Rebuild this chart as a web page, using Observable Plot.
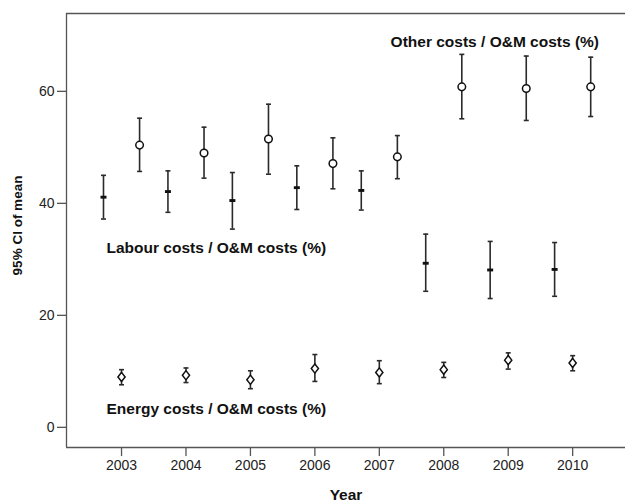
<!DOCTYPE html>
<html>
<head>
<meta charset="utf-8">
<script src="https://cdn.jsdelivr.net/npm/d3@7"></script>
<script src="https://cdn.jsdelivr.net/npm/@observablehq/plot@0.6"></script>
<style>
  html, body { margin: 0; padding: 0; background: #fff; }
</style>
</head>
<body>
<div id="chart"></div>
<script>
const years = [2003, 2004, 2005, 2006, 2007, 2008, 2009, 2010];

const labourMean = [41.1, 42.1, 40.5, 42.8, 42.3, 29.3, 28.1, 28.2];
const labourLow  = [37.2, 38.4, 35.4, 38.9, 38.8, 24.3, 23.0, 23.4];
const labourHigh = [45.0, 45.8, 45.5, 46.7, 45.8, 34.5, 33.2, 33.0];

const otherMean = [50.4, 49.0, 51.5, 47.1, 48.3, 60.8, 60.5, 60.8];
const otherLow  = [45.7, 44.5, 45.2, 42.6, 44.4, 55.1, 54.8, 55.5];
const otherHigh = [55.2, 53.6, 57.7, 51.7, 52.1, 66.6, 66.3, 66.1];

const energyMean = [9.0, 9.3, 8.5, 10.5, 9.8, 10.3, 12.0, 11.5];
const energyLow  = [7.6, 8.0, 6.9, 8.2, 7.8, 8.9, 10.4, 10.1];
const energyHigh = [10.3, 10.6, 10.1, 13.0, 11.9, 11.6, 13.3, 12.8];

const seriesLabels = [
  "Other costs / O&M costs (%)",
  "Labour costs / O&M costs (%)",
  "Energy costs / O&M costs (%)"
];

const yTicks = [0, 20, 40, 60];
const xTitle = "Year";
const yTitle = "95% CI of mean";

// symbols
const barSym = { draw(ctx, size) { const r = Math.sqrt(size / Math.PI); ctx.rect(-r * 1.25, -r * 0.6, r * 2.5, r * 1.2); } };
const diamondSym = { draw(ctx, size) { const r = Math.sqrt(size / Math.PI); ctx.moveTo(0, -r * 1.15); ctx.lineTo(r * 0.9, 0); ctx.lineTo(0, r * 1.15); ctx.lineTo(-r * 0.9, 0); ctx.closePath(); } };
const capSym = { draw(ctx, size) { ctx.moveTo(-2.5, 0); ctx.lineTo(2.5, 0); } };

function rows(mean, low, high, offset) {
  return years.map((y, i) => ({ x: y + offset, mean: mean[i], low: low[i], high: high[i] }));
}
const labour = rows(labourMean, labourLow, labourHigh, -0.28);
const energy = rows(energyMean, energyLow, energyHigh, 0);
const other = rows(otherMean, otherLow, otherHigh, 0.28);
const all = [...labour, ...energy, ...other];

const xDomain = [2002.146, 2010.82];
const yDomain = [-3.6, 73.9];
const axisColor = "#555";
const barColor = "#2a2a2a";

const chart = Plot.plot({
  width: 625,
  height: 502,
  marginTop: 13,
  marginBottom: 55,
  marginLeft: 66,
  marginRight: 0,
  style: { fontFamily: "'Liberation Sans', Arial, sans-serif", fontSize: "14px", background: "#fff", color: "#222" },
  x: { type: "linear", domain: xDomain },
  y: { domain: yDomain },
  marks: [
    // frame lines (no right edge)
    Plot.ruleY([yDomain[1]], { stroke: axisColor, strokeWidth: 1.3 }),
    Plot.ruleY([yDomain[0]], { stroke: axisColor, strokeWidth: 1.3 }),
    Plot.ruleX([xDomain[0]], { stroke: axisColor, strokeWidth: 1.3 }),
    Plot.axisX({ ticks: years, tickFormat: "d", tickSize: 9, tickPadding: 4, label: null, stroke: axisColor, strokeWidth: 1.3, fontSize: 14, fill: "#222" }),
    Plot.axisY({ ticks: yTicks, tickSize: 9, tickPadding: 3, label: null, stroke: axisColor, strokeWidth: 1.3, fontSize: 14, fill: "#222" }),
    // error bars
    Plot.ruleX(all, { x: "x", y1: "low", y2: "high", stroke: barColor, strokeWidth: 1.6 }),
    Plot.dot(all, { x: "x", y: "low", symbol: capSym, stroke: barColor, strokeWidth: 1.6, r: 3 }),
    Plot.dot(all, { x: "x", y: "high", symbol: capSym, stroke: barColor, strokeWidth: 1.6, r: 3 }),
    // markers
    Plot.dot(labour, { x: "x", y: "mean", symbol: barSym, r: 2.4, fill: "#111", stroke: "none" }),
    Plot.dot(other, { x: "x", y: "mean", symbol: "circle", r: 3.8, fill: "#fff", stroke: "#111", strokeWidth: 1.5 }),
    Plot.dot(energy, { x: "x", y: "mean", symbol: diamondSym, r: 4, fill: "#fff", stroke: "#111", strokeWidth: 1.5 }),
    // series annotations
    Plot.text([seriesLabels[0]], { x: 2007.175, y: 68.75, text: d => d, textAnchor: "start", fontWeight: "bold", fontSize: 15.5, fill: "#111" }),
    Plot.text([seriesLabels[1]], { x: 2002.767, y: 32.1, text: d => d, textAnchor: "start", fontWeight: "bold", fontSize: 15.5, fill: "#111" }),
    Plot.text([seriesLabels[2]], { x: 2002.767, y: 3.2, text: d => d, textAnchor: "start", fontWeight: "bold", fontSize: 15.5, fill: "#111" }),
    // axis titles
    Plot.text([xTitle], { frameAnchor: "bottom", dy: 48, textAnchor: "middle", lineAnchor: "middle", text: d => d, fontWeight: "bold", fontSize: 15.5, fill: "#111" }),
    Plot.text([yTitle], { frameAnchor: "left", dx: -49, dy: -5, rotate: -90, textAnchor: "middle", lineAnchor: "middle", text: d => d, fontWeight: "bold", fontSize: 13.5, fill: "#111" })
  ]
});
document.getElementById("chart").appendChild(chart);
</script>
</body>
</html>
